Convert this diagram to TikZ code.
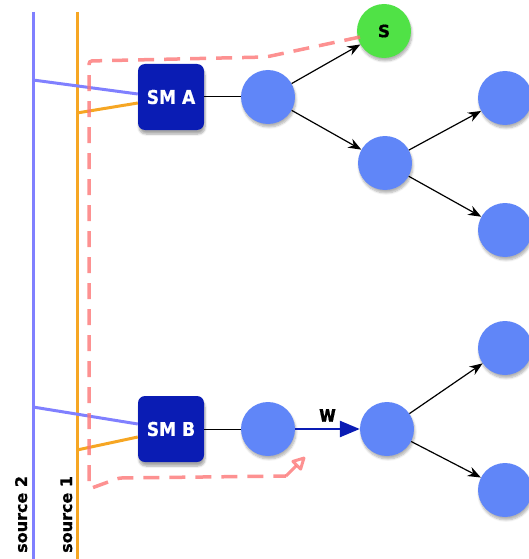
\documentclass[tikz,border=0pt]{standalone}
\usepackage{fontspec}
\usepackage{graphicx}
\setmainfont{DejaVu Sans}[BoldFeatures={FakeBold=0.8}]
\usetikzlibrary{arrows.meta,shadows.blur}

\definecolor{cellblue}{RGB}{96,134,248}
\definecolor{smblue}{RGB}{10,28,180}
\definecolor{sgreen}{RGB}{80,226,70}
\definecolor{srctwo}{RGB}{128,128,255}
\definecolor{srcone}{RGB}{246,166,35}
\definecolor{pathred}{RGB}{252,118,118}

% heavy, slightly condensed label text
\newcommand{\tightlabel}[1]{\scalebox{0.9}[1]{#1}}

\tikzset{
  cell/.style={circle, fill=cellblue, minimum size=54pt, inner sep=0pt,
    blur shadow={shadow xshift=1pt, shadow yshift=-3pt, shadow blur steps=6, shadow opacity=30}},
  spike/.style={circle, fill=sgreen, minimum size=54pt, inner sep=0pt,
    font=\bfseries\fontsize{17}{19}\selectfont,
    blur shadow={shadow xshift=1pt, shadow yshift=-3pt, shadow blur steps=6, shadow opacity=30}},
  smbox/.style={rectangle, rounded corners=7pt, fill=smblue, text=white,
    minimum width=66pt, minimum height=66pt, inner sep=0pt,
    font=\bfseries\fontsize{19}{21}\selectfont,
    blur shadow={shadow xshift=1pt, shadow yshift=-4pt, shadow blur steps=6, shadow opacity=35}},
  srcline/.style={line width=3pt},
  feed/.style={line width=3pt},
  link/.style={line width=1pt, black},
  edge/.style={line width=1.2pt, black, -{Stealth[length=13pt, width=10pt]}},
  wedge/.style={line width=2.6pt, smblue, -{Triangle[length=20pt, width=16pt]}},
  route/.style={line width=3.5pt, pathred, opacity=0.8, dash pattern=on 16pt off 10pt, rounded corners=3pt},
  srclabel/.style={rotate=90, font=\bfseries\fontsize{16}{18}\selectfont, inner sep=0pt}
}

\begin{document}
\begin{tikzpicture}[x=1pt, y=-1pt]
\useasboundingbox (0,0) rectangle (528,559);

% source lines
\coordinate (s2top) at (33,12);
\coordinate (s2bot) at (33,559);
\coordinate (s1top) at (77,12);
\coordinate (s1bot) at (77,559);
\draw[srcline, srctwo] (s2top) -- (s2bot);
\draw[srcline, srcone] (s1top) -- (s1bot);
\node[srclabel, anchor=base west] (lab2) at (27,553) {source 2};
\node[srclabel, anchor=base west] (lab1) at (72,553) {source 1};

% tap points on the sources
\coordinate (tapA2) at (33,80);
\coordinate (tapA1) at (77,113);
\coordinate (tapB2) at (33,407);
\coordinate (tapB1) at (77,450);

% nodes
\node[smbox] (SMA) at (171,97) {\tightlabel{SM A}};
\node[smbox] (SMB) at (171,429) {\tightlabel{SM B}};
\node[cell] (a1) at (268,97) {};
\node[spike] (S) at (384,31) {S};
\node[cell] (a2) at (385,163) {};
\node[cell] (a3) at (505,98) {};
\node[cell] (a4) at (505,230) {};
\node[cell] (b1) at (268,429) {};
\node[cell] (b2) at (387,429) {};
\node[cell] (b3) at (505,348) {};
\node[cell] (b4) at (505,490) {};

% feeds into the modules
\draw[feed, srctwo] (tapA2) -- ([yshift=3pt]SMA.west);
\draw[feed, srcone] (tapA1) -- ([yshift=-6pt]SMA.west);
\draw[feed, srctwo] (tapB2) -- ([yshift=5pt]SMB.west);
\draw[feed, srcone] (tapB1) -- ([yshift=-8pt]SMB.west);

% connections
\draw[link] (SMA.east) -- (a1.west);
\draw[link] (SMB.east) -- (b1.west);
\draw[edge] (a1) -- (S);
\draw[edge] (a1) -- (a2);
\draw[edge] (a2) -- (a3);
\draw[edge] (a2) -- (a4);
\draw[edge] (b2) -- (b3);
\draw[edge] (b2) -- (b4);
\draw[wedge] (b1) -- (b2) node[midway, above=6pt, font=\bfseries\fontsize{23}{25}\selectfont, text=black, inner sep=0pt] (w) {\scalebox{0.8}[1]{w}};

% dashed route
\coordinate (r0) at (360,37);
\coordinate (r1) at (266,57);
\coordinate (r2) at (89,61);
\coordinate (r3) at (89,489);
\coordinate (r4) at (119,478);
\coordinate (r5) at (286,476);
\coordinate (r6) at (305,457);
\draw[route] (r0) -- (r1) -- (r2) -- (r3) -- (r4) -- (r5);
\draw[line width=3pt, pathred, opacity=0.8, line join=round, -{Triangle[open, round, length=15pt, width=15pt]}] (r5) -- (r6);
\end{tikzpicture}
\end{document}
